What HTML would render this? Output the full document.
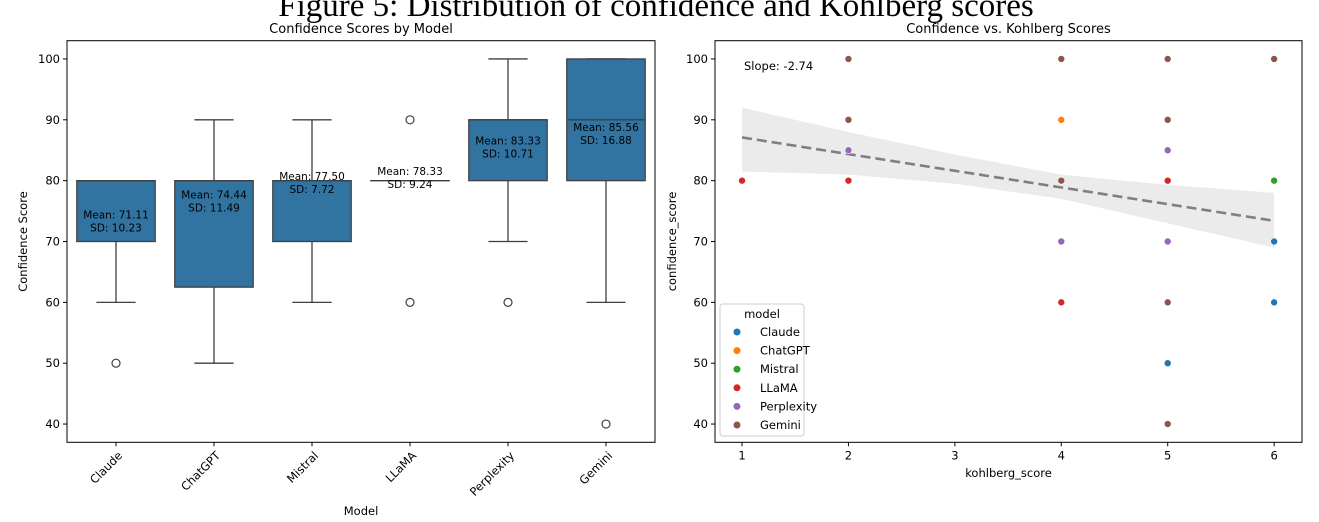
<!DOCTYPE html>
<html><head><meta charset="utf-8">
<style>
html,body{margin:0;padding:0;background:#fff;}
svg{display:block;font-family:"DejaVu Sans","Liberation Sans",sans-serif;}
</style></head>
<body>
<svg id="fig" width="1319" height="522" viewBox="0 0 1319 522" xmlns="http://www.w3.org/2000/svg">
<rect width="1319" height="522" fill="#fff"/>
<text x="656" y="16" text-anchor="middle" font-family="Liberation Serif, serif" font-size="33" fill="#000">Figure 5: Distribution of confidence and Kohlberg scores</text>
<g id="left"></g>
<g id="right"></g>
</svg>
<script>
// ---- box plot data ----
const models = ["Claude","ChatGPT","Mistral","LLaMA","Perplexity","Gemini"];
const q1 = [70,62.5,70,80,80,80];
const median = [80,80,80,80,90,90];
const q3 = [80,80,80,80,90,100];
const whiskLow = [60,50,60,80,70,60];
const whiskHigh = [80,90,90,80,100,100];
const outliers = [[50],[],[],[90,60],[60],[40]];
const means = [71.11,74.44,77.50,78.33,83.33,85.56];
const sds = [10.23,11.49,7.72,9.24,10.71,16.88];
const yTicks = [40,50,60,70,80,90,100];
// ---- scatter data ----
const kohlberg = [1,2,2,2,2,4,4,4,4,4,5,5,5,5,5,5,5,5,6,6,6,6];
const confidence = [80,100,90,85,80,100,90,80,70,60,100,90,85,80,70,60,50,40,100,80,70,60];
const pointModel = ["LLaMA","Gemini","Gemini","Perplexity","LLaMA","Gemini","ChatGPT","Gemini","Perplexity","LLaMA","Gemini","Gemini","Perplexity","LLaMA","Perplexity","Gemini","Claude","Gemini","Gemini","Mistral","Claude","Claude"];
const bandX = [1,2,3,4,5,6];
const bandUpper = [92,88,84.3,81,79.3,78];
const bandLower = [81.5,81,79.5,77,73,69];
const regLine = [87.1,73.4]; // value at x=1 and x=6
const slopeLabel = "Slope: -2.74";
const xTicks = [1,2,3,4,5,6];
const palette = {Claude:"#1f77b4",ChatGPT:"#ff7f0e",Mistral:"#2ca02c",LLaMA:"#d62728",Perplexity:"#9467bd",Gemini:"#8c564b"};

const NS="http://www.w3.org/2000/svg";
function mk(parent,tag,attrs,text){const e=document.createElementNS(NS,tag);for(const k in attrs)e.setAttribute(k,attrs[k]);if(text!==undefined)e.textContent=text;parent.appendChild(e);return e;}
const yTop=40.7,yBot=442.3,yMin=37,yMax=103;
function Y(v){return yBot-(v-yMin)/(yMax-yMin)*(yBot-yTop);}

// ---- left panel ----
const L=document.getElementById('left');
const lx0=67,lx1=655,band=(lx1-lx0)/models.length;
function XC(i){return lx0+band*(i+0.5);}
const bw=band*0.8;
let t=mk(L,'text',{x:(lx0+lx1)/2,y:33,'text-anchor':'middle','font-size':13,fill:'#000'},'Confidence Scores by Model');

yTicks.forEach(v=>{const g=mk(L,'g',{});

mk(g,'line',{x1:lx0-4,x2:lx0,y1:Y(v),y2:Y(v),stroke:'#000'});
mk(g,'text',{x:lx0-7,y:Y(v)+4,'text-anchor':'end','font-size':11.5,fill:'#000'},v);});
models.forEach((m,i)=>{const g=mk(L,'g',{});

const c=XC(i),col='#3f3f3f';
mk(g,'line',{x1:c,x2:c,y1:Y(q1[i]),y2:Y(whiskLow[i]),stroke:col,'stroke-width':1.3});
mk(g,'line',{x1:c,x2:c,y1:Y(q3[i]),y2:Y(whiskHigh[i]),stroke:col,'stroke-width':1.3});
mk(g,'line',{x1:c-bw/4,x2:c+bw/4,y1:Y(whiskLow[i]),y2:Y(whiskLow[i]),stroke:col,'stroke-width':1.3});
mk(g,'line',{x1:c-bw/4,x2:c+bw/4,y1:Y(whiskHigh[i]),y2:Y(whiskHigh[i]),stroke:col,'stroke-width':1.3});
mk(g,'rect',{x:c-bw/2,y:Y(q3[i]),width:bw,height:Math.max(Y(q1[i])-Y(q3[i]),0.01),fill:'#3274a1',stroke:col,'stroke-width':1.3});
mk(g,'line',{x1:c-bw/2,x2:c+bw/2,y1:Y(median[i]),y2:Y(median[i]),stroke:col,'stroke-width':1.3});
outliers[i].forEach(o=>mk(g,'circle',{cx:c,cy:Y(o),r:4,fill:'none',stroke:col,'stroke-width':1.2}));
const a=mk(g,'text',{x:c,y:Y(means[i])-16,'text-anchor':'middle','font-size':10.5,fill:'#000'},'Mean: '+means[i].toFixed(2));

mk(g,'text',{x:c,y:Y(means[i])-3,'text-anchor':'middle','font-size':10.5,fill:'#000'},'SD: '+sds[i].toFixed(2));
mk(g,'line',{x1:c,x2:c,y1:yBot,y2:yBot+4,stroke:'#000'});
const lbl=mk(g,'text',{transform:`translate(${c+7},${yBot+14}) rotate(-45)`,'text-anchor':'end','font-size':11.5,fill:'#000'},m);
});
let fr=mk(L,'rect',{x:lx0,y:yTop,width:lx1-lx0,height:yBot-yTop,fill:'none',stroke:'#000','stroke-width':1});

t=mk(L,'text',{x:(lx0+lx1)/2,y:515,'text-anchor':'middle','font-size':11.5,fill:'#000'},'Model');

t=mk(L,'text',{transform:`translate(27,${(yTop+yBot)/2}) rotate(-90)`,'text-anchor':'middle','font-size':11.5,fill:'#000'},'Confidence Score');


// ---- right panel ----
const R=document.getElementById('right');
const rx0=715,rx1=1302,xMin=0.746,xMax=6.262;
function X(v){return rx0+(v-xMin)/(xMax-xMin)*(rx1-rx0);}
t=mk(R,'text',{x:(rx0+rx1)/2,y:33,'text-anchor':'middle','font-size':13,fill:'#000'},'Confidence vs. Kohlberg Scores');

yTicks.forEach(v=>{const g=mk(R,'g',{});

mk(g,'line',{x1:rx0-4,x2:rx0,y1:Y(v),y2:Y(v),stroke:'#000'});
mk(g,'text',{x:rx0-7,y:Y(v)+4,'text-anchor':'end','font-size':11.5,fill:'#000'},v);});
xTicks.forEach(v=>{const g=mk(R,'g',{});

mk(g,'line',{x1:X(v),x2:X(v),y1:yBot,y2:yBot+4,stroke:'#000'});
mk(g,'text',{x:X(v),y:yBot+17,'text-anchor':'middle','font-size':11.5,fill:'#000'},v);});
let pts=bandX.map((v,i)=>X(v)+','+Y(bandUpper[i]));
pts=pts.concat(bandX.map((v,i)=>X(v)+','+Y(bandLower[i])).reverse());
const ci=mk(R,'polygon',{points:pts.join(' '),fill:'#ebebeb',stroke:'none'});

const rl=mk(R,'line',{x1:X(1),y1:Y(regLine[0]),x2:X(6),y2:Y(regLine[1]),stroke:'#7f7f7f','stroke-width':2.6,'stroke-dasharray':'10,5'});

kohlberg.forEach((k,i)=>{const c=mk(R,'circle',{cx:X(k),cy:Y(confidence[i]),r:3.5,fill:palette[pointModel[i]],stroke:'#fff','stroke-width':0.6});

});
t=mk(R,'text',{x:744,y:70,'font-size':11.5,fill:'#000'},slopeLabel);

fr=mk(R,'rect',{x:rx0,y:yTop,width:rx1-rx0,height:yBot-yTop,fill:'none',stroke:'#000','stroke-width':1});

t=mk(R,'text',{x:(rx0+rx1)/2,y:477,'text-anchor':'middle','font-size':11.5,fill:'#000'},'kohlberg_score');

t=mk(R,'text',{transform:`translate(676,${(yTop+yBot)/2}) rotate(-90)`,'text-anchor':'middle','font-size':11.5,fill:'#000'},'confidence_score');

const lg=mk(R,'g',{});

mk(lg,'rect',{x:720,y:304,width:84,height:132,rx:3,fill:'#fff','fill-opacity':0.85,stroke:'#ccc'});
mk(lg,'text',{x:762,y:318,'text-anchor':'middle','font-size':11.5,fill:'#000'},'model');
models.forEach((m,i)=>{const e=mk(lg,'g',{});

const yy=332+i*18.6;
mk(e,'circle',{cx:737,cy:yy,r:3.5,fill:palette[m]});
mk(e,'text',{x:760,y:yy+4,'font-size':11.5,fill:'#000'},m);});
</script>
</body></html>
